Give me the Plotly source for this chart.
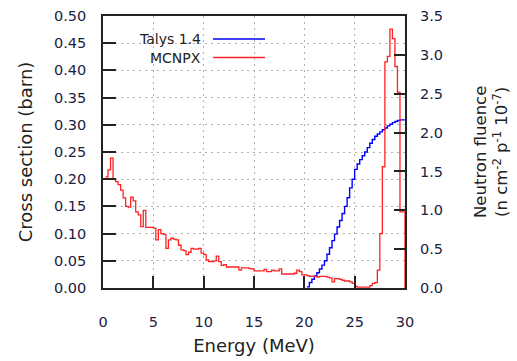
import numpy as np
import plotly.graph_objects as go

# ---------------- data ----------------
# MCNPX neutron fluence (n cm^-2 p^-1 10^-7), 0.25 MeV bins starting at 0.25 MeV
mcnpx_bin_width = 0.25
mcnpx_start = 0.25
mcnpx_fluence = [
    1.43, 1.52, 1.67, 1.40, 1.37, 1.33, 1.26, 1.16, 1.05, 1.04,
    1.17, 1.12, 0.98, 0.94, 0.79, 1.00, 0.78, 0.78, 0.78, 0.77,
    0.62, 0.75, 0.70, 0.69, 0.51, 0.62, 0.64, 0.63, 0.62, 0.55,
    0.49, 0.48, 0.43, 0.46, 0.51, 0.50, 0.50, 0.51, 0.45, 0.43,
    0.36, 0.34, 0.34, 0.35, 0.41, 0.34, 0.29, 0.30, 0.27, 0.27,
    0.27, 0.27, 0.27, 0.23, 0.26, 0.26, 0.26, 0.25, 0.245, 0.22,
    0.22, 0.22, 0.22, 0.24, 0.21, 0.21, 0.23, 0.22, 0.22, 0.245,
    0.18, 0.18, 0.18, 0.18, 0.18, 0.19, 0.23, 0.21, 0.17, 0.17,
    0.16, 0.15, 0.15, 0.15, 0.14, 0.15, 0.15, 0.15, 0.14, 0.13,
    0.08, 0.12, 0.12, 0.11, 0.10, 0.09, 0.09, 0.08, 0.06, 0.02,
    0.01, 0.01, 0.01, 0.01, 0.01, 0.03, 0.06, 0.07, 0.23, 0.70,
    1.56, 2.91, 2.98, 3.33, 3.21, 2.85, 2.52, 0.98, 0.98,
]

# Talys 1.4 cross section (barn), 0.25 MeV bins starting at 20.25 MeV
talys_start = 20.25
talys_bin_width = 0.25
talys_xs = [
    0.002, 0.010, 0.016, 0.022, 0.028, 0.035, 0.042, 0.050, 0.062, 0.074,
    0.087, 0.099, 0.112, 0.124, 0.137, 0.150, 0.166, 0.184, 0.200, 0.218,
    0.228, 0.236, 0.243, 0.250, 0.258, 0.266, 0.273, 0.279, 0.283, 0.287,
    0.291, 0.294, 0.298, 0.301, 0.304, 0.306, 0.308, 0.309, 0.309,
]

x_ticks = [0, 5, 10, 15, 20, 25, 30]
y_ticks = [0.00, 0.05, 0.10, 0.15, 0.20, 0.25, 0.30, 0.35, 0.40, 0.45, 0.50]
y2_ticks = [0.0, 0.5, 1.0, 1.5, 2.0, 2.5, 3.0, 3.5]
x_max = 30

# ---------------- build step series ----------------
mc_x = list(mcnpx_start + mcnpx_bin_width * np.arange(len(mcnpx_fluence)))
mc_x_full = mc_x + [x_max, x_max]
mc_y_full = mcnpx_fluence + [mcnpx_fluence[-1], 0.0]

ta_x = list(talys_start + talys_bin_width * np.arange(len(talys_xs)))
ta_x_full = ta_x + [x_max]
ta_y_full = talys_xs + [talys_xs[-1]]

W, H = 517, 361
ML, MR, MT, MB = 103, 112, 16, 73
PW, PH = W - ML - MR, H - MT - MB

TICK_COLOR = "#20203f"
TEXT_COLOR = "#222222"
FONT = "DejaVu Sans"
GRID = dict(showgrid=True, gridcolor="#b0b0b0", griddash="1.5px,4.5px", gridwidth=1)

fig = go.Figure()
fig.add_trace(go.Scatter(
    x=ta_x_full, y=ta_y_full, mode="lines", line_shape="hv",
    line=dict(color="#0000ff", width=1.4), name="Talys 1.4", yaxis="y",
    showlegend=False,
))
fig.add_trace(go.Scatter(
    x=mc_x_full, y=mc_y_full, mode="lines", line_shape="hv",
    line=dict(color="#ff2222", width=1.3), name="MCNPX", yaxis="y2",
    showlegend=False,
))

# manual gnuplot-style legend: text right-aligned, sample line to the right
legend_items = [("Talys 1.4", "#0000ff"), ("MCNPX", "#ff2222")]
legend_text_right = 203
legend_line = (213, 265)
legend_y0, legend_dy = 39, 18.5
shapes, annotations = [], []
for i, (label, color) in enumerate(legend_items):
    yy = legend_y0 + i * legend_dy
    yp = 1 - (yy - MT) / PH
    annotations.append(dict(
        text=label, xref="paper", yref="paper",
        x=(legend_text_right - ML) / PW, y=yp, xanchor="right", yanchor="middle",
        showarrow=False, font=dict(family=FONT, size=14, color=TEXT_COLOR),
    ))
    shapes.append(dict(
        type="line", xref="paper", yref="paper",
        x0=(legend_line[0] - ML) / PW, x1=(legend_line[1] - ML) / PW, y0=yp, y1=yp,
        line=dict(color=color, width=1.4),
    ))

# right axis title (two lines)
annotations.append(dict(
    text="Neutron fluence<br>(n cm<sup>-2</sup> p<sup>-1</sup> 10<sup>-7</sup>)",
    xref="paper", yref="paper", x=(491 - ML) / PW, y=0.5,
    xanchor="center", yanchor="middle", textangle=-90, showarrow=False,
    font=dict(family=FONT, size=16.5, color=TEXT_COLOR),
))

fig.update_layout(
    width=W, height=H,
    margin=dict(l=ML, r=MR, t=MT, b=MB, autoexpand=False),
    plot_bgcolor="white", paper_bgcolor="white",
    font=dict(family=FONT, color=TEXT_COLOR),
    shapes=shapes, annotations=annotations,
    xaxis=dict(
        range=[0, x_max], tickvals=x_ticks, ticktext=[str(t) for t in x_ticks],
        ticks="inside", ticklen=12, tickwidth=1.5, tickcolor="#222",
        showline=True, mirror=True, linecolor="#222", linewidth=1.6,
        zeroline=False, ticklabelstandoff=20, automargin=False,
        tickfont=dict(family=FONT, size=14.5, color=TICK_COLOR),
        title=dict(text="Energy (MeV)", standoff=10,
                   font=dict(family=FONT, size=18, color=TEXT_COLOR)),
        **GRID,
    ),
    yaxis=dict(
        range=[0, 0.5], tickvals=y_ticks, ticktext=[f"{t:.2f}" for t in y_ticks],
        ticks="inside", ticklen=13, tickwidth=1.5, tickcolor="#222",
        showline=True, mirror=True, linecolor="#222", linewidth=1.6,
        zeroline=False, ticklabelstandoff=12, automargin=False,
        tickfont=dict(family=FONT, size=14.5, color=TICK_COLOR),
        title=dict(text="Cross section (barn)", standoff=17,
                   font=dict(family=FONT, size=18, color=TEXT_COLOR)),
        **GRID,
    ),
    yaxis2=dict(
        range=[0, 3.5], tickvals=y2_ticks, ticktext=[f"{t:.1f}" for t in y2_ticks],
        overlaying="y", side="right", automargin=False,
        ticks="inside", ticklen=11, tickwidth=1.5, tickcolor="#222",
        showline=False, showgrid=False, zeroline=False, ticklabelstandoff=14,
        tickfont=dict(family=FONT, size=14.5, color=TICK_COLOR),
    ),
)

fig.write_html(
    "out.html",
    config={"displayModeBar": False},
    post_script="document.body.style.margin='0px';document.body.style.padding='0px';",
)
